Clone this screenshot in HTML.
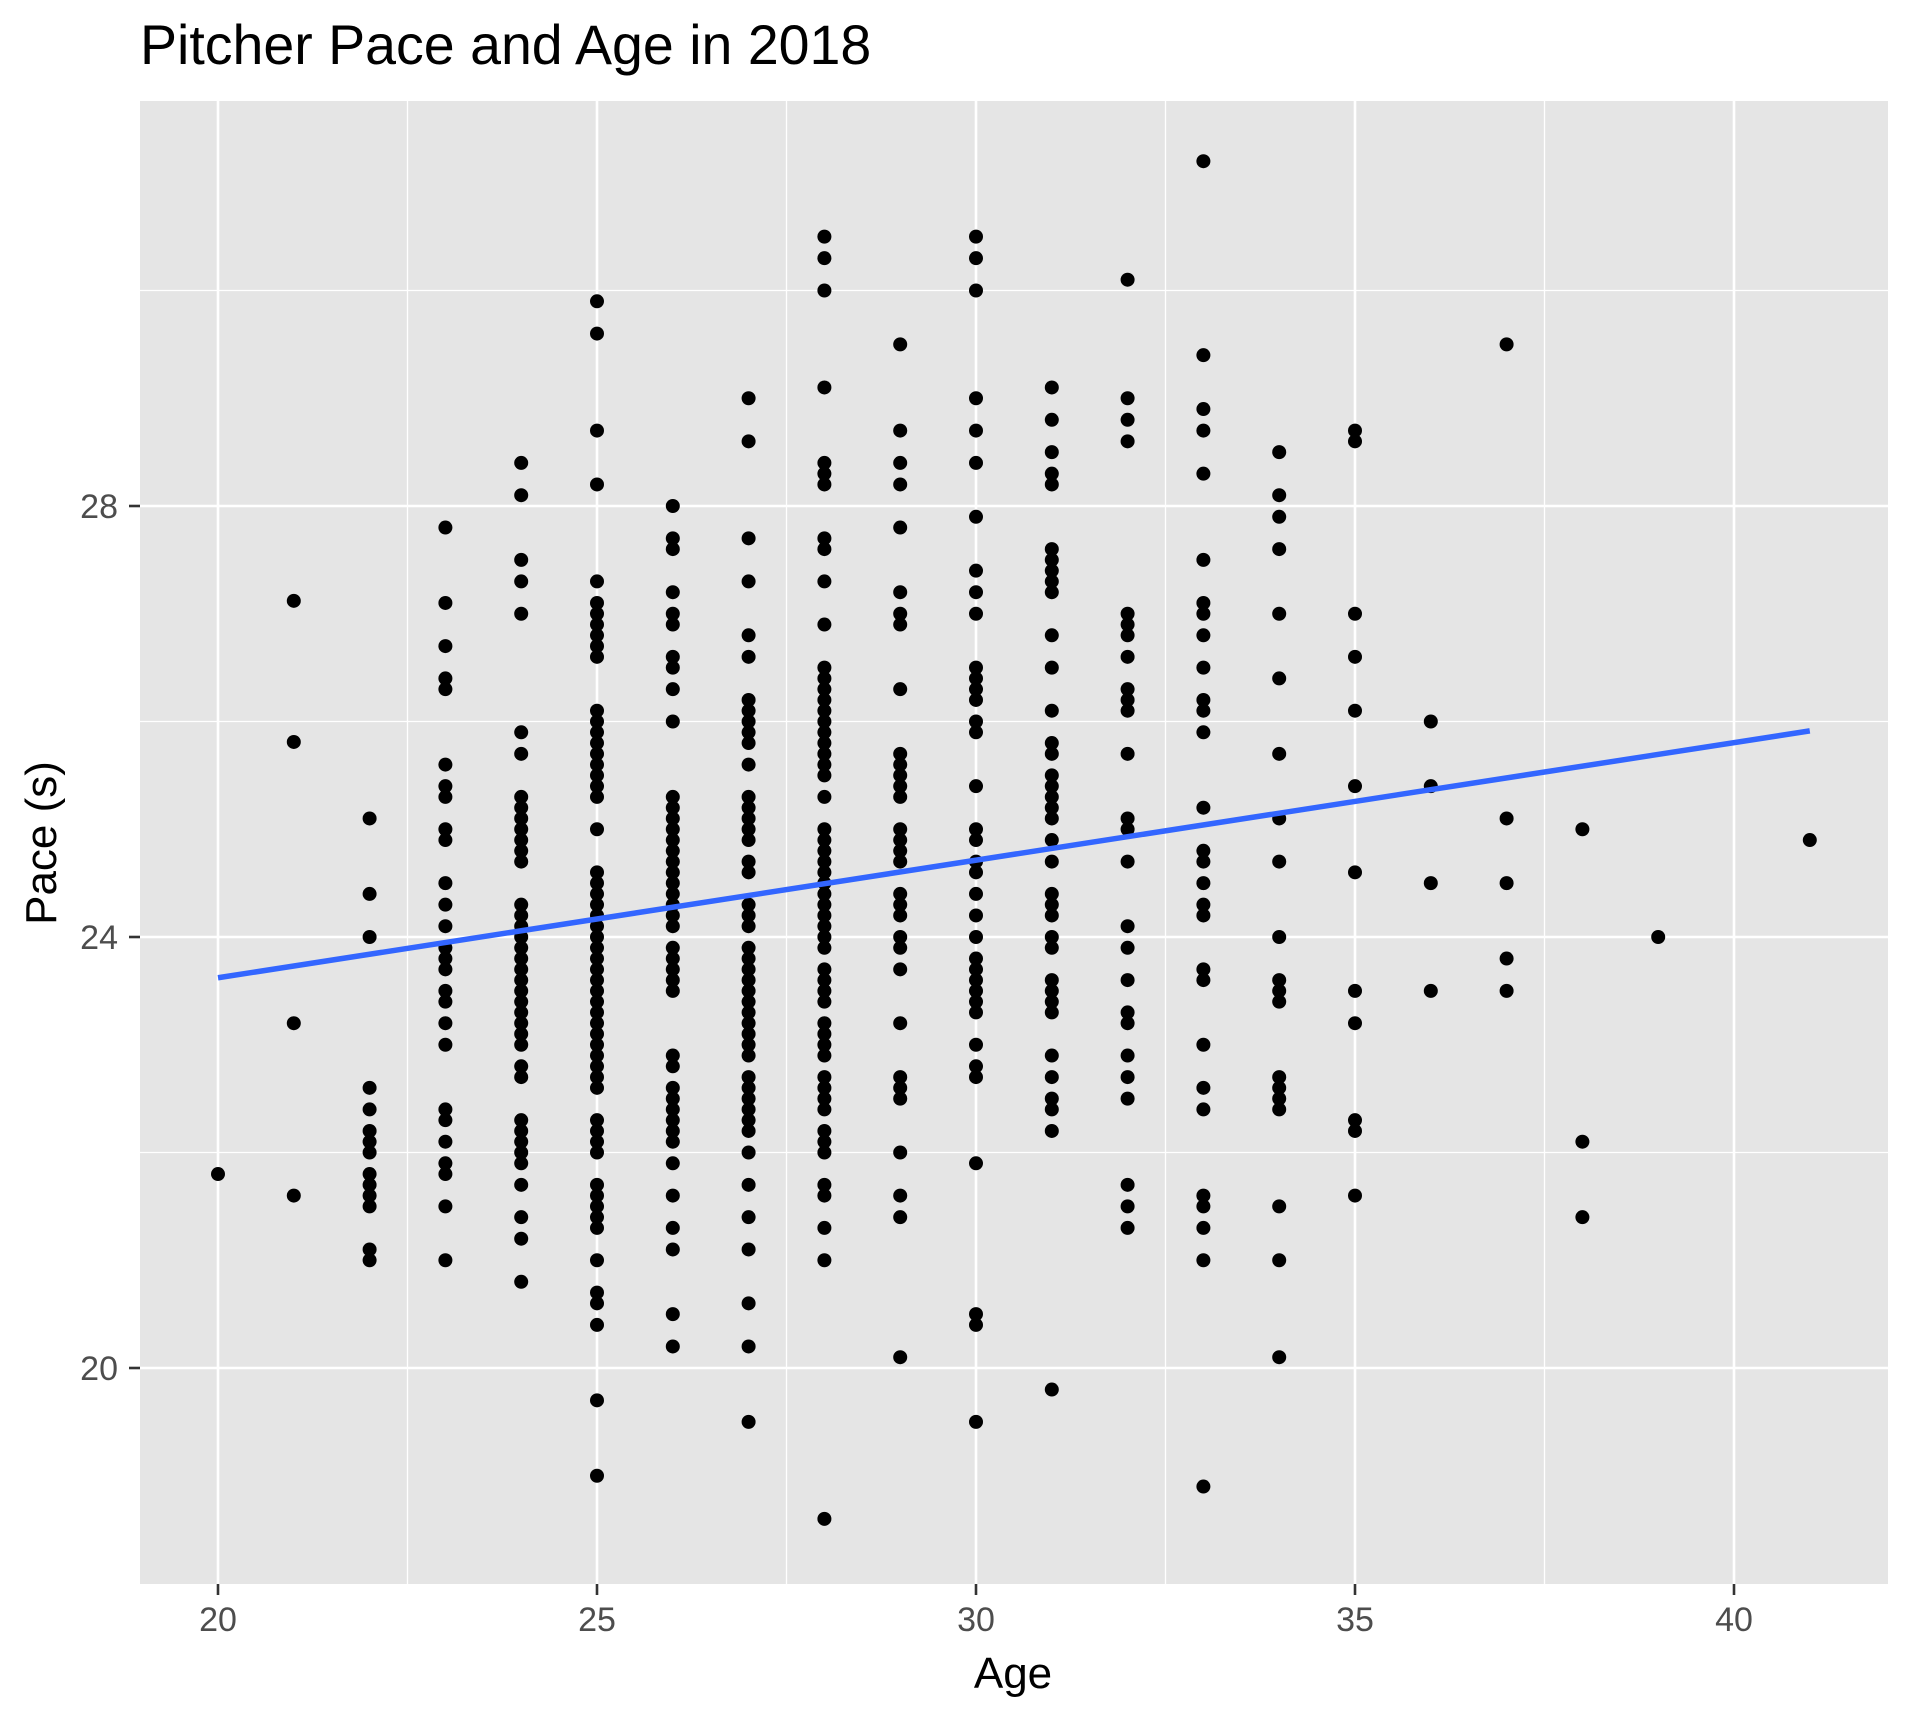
<!DOCTYPE html>
<html><head><meta charset="utf-8"><style>
body{margin:0;background:#fff}
svg{display:block;font-family:"Liberation Sans",Arial,sans-serif}
</style></head><body>
<svg id="chart" width="1908" height="1720" viewBox="0 0 1908 1720" xmlns="http://www.w3.org/2000/svg">
<text x="140" y="64" font-size="55.5" fill="#000">Pitcher Pace and Age in 2018</text>
<rect x="140" y="101" width="1748" height="1483" fill="#e5e5e5"/>
<g id="grid"></g>
<g id="axes"></g>
<g id="points"></g>
<g id="fit"></g>
<text x="1013" y="1688" font-size="44" text-anchor="middle" fill="#000">Age</text>
<text transform="translate(56,843) rotate(-90)" font-size="44" text-anchor="middle" fill="#000">Pace (s)</text>
</svg>
<script>
const xTicks=[20,25,30,35,40];
const xMinor=[22.5,27.5,32.5,37.5];
const yTicks=[20,24,28];
const yMinor=[22,26,30];
const ages=[20,21,22,23,24,25,26,27,28,29,30,31,32,33,34,35,36,37,38,39,41];
const paces=[
[21.8],
[27.12,25.81,23.2,21.6],
[25.1,24.4,24.0,22.6,22.4,22.2,22.1,22.0,21.8,21.7,21.6,21.5,21.1,21.0],
[27.8,27.1,26.7,26.4,26.3,25.6,25.4,25.3,25.0,24.9,24.5,24.3,24.1,23.9,23.8,23.7,23.5,23.4,23.2,23.0,22.4,22.3,22.1,21.9,21.8,21.5,21.0],
[28.4,28.1,27.5,27.3,27.0,25.9,25.7,25.3,25.2,25.1,25.0,24.9,24.8,24.7,24.3,24.2,24.1,24.0,23.9,23.8,23.7,23.6,23.5,23.4,23.3,23.2,23.1,23.0,22.8,22.7,22.3,22.2,22.1,22.0,21.9,21.7,21.4,21.2,20.8],
[29.9,29.6,28.7,28.2,27.3,27.1,27.0,26.9,26.8,26.7,26.6,26.1,26.0,25.9,25.8,25.7,25.6,25.5,25.4,25.3,25.0,24.6,24.5,24.4,24.3,24.2,24.1,24.0,23.9,23.8,23.7,23.6,23.5,23.4,23.3,23.2,23.1,23.0,22.9,22.8,22.7,22.6,22.3,22.2,22.1,22.0,21.7,21.6,21.5,21.4,21.3,21.0,20.7,20.6,20.4,19.7,19.0],
[28.0,27.7,27.6,27.2,27.0,26.9,26.6,26.5,26.3,26.0,25.3,25.2,25.1,25.0,24.9,24.8,24.7,24.6,24.5,24.4,24.3,24.2,24.1,23.9,23.8,23.7,23.6,23.5,22.9,22.8,22.6,22.5,22.4,22.3,22.2,22.1,21.9,21.6,21.3,21.1,20.5,20.2],
[29.0,28.6,27.7,27.3,26.8,26.6,26.2,26.1,26.0,25.9,25.8,25.6,25.3,25.2,25.1,25.0,24.9,24.7,24.6,24.3,24.2,24.1,23.9,23.8,23.7,23.6,23.5,23.4,23.3,23.2,23.1,23.0,22.9,22.7,22.6,22.5,22.4,22.3,22.2,22.0,21.7,21.4,21.1,20.6,20.2,19.5],
[30.5,30.3,30.0,29.1,28.4,28.3,28.2,27.7,27.6,27.3,26.9,26.5,26.4,26.3,26.2,26.1,26.0,25.9,25.8,25.7,25.6,25.5,25.3,25.0,24.9,24.8,24.7,24.6,24.5,24.4,24.3,24.2,24.1,24.0,23.9,23.7,23.6,23.5,23.4,23.2,23.1,23.0,22.9,22.7,22.6,22.5,22.4,22.2,22.1,22.0,21.7,21.6,21.3,21.0,18.6],
[29.5,28.7,28.4,28.2,27.8,27.2,27.0,26.9,26.3,25.7,25.6,25.5,25.4,25.3,25.0,24.9,24.8,24.7,24.4,24.3,24.2,24.0,23.9,23.7,23.2,22.7,22.6,22.5,22.0,21.6,21.4,20.1],
[30.5,30.3,30.0,29.0,28.7,28.4,27.9,27.4,27.2,27.0,26.5,26.4,26.3,26.2,26.0,25.9,25.4,25.0,24.9,24.7,24.6,24.4,24.2,24.0,23.8,23.7,23.6,23.5,23.4,23.3,23.0,22.8,22.7,21.9,20.5,20.4,19.5],
[29.1,28.8,28.5,28.3,28.2,27.6,27.5,27.4,27.3,27.2,26.8,26.5,26.1,25.8,25.7,25.5,25.4,25.3,25.2,25.1,24.9,24.7,24.4,24.3,24.2,24.0,23.9,23.6,23.5,23.4,23.3,22.9,22.7,22.5,22.4,22.2,19.8],
[30.1,29.0,28.8,28.6,27.0,26.9,26.8,26.6,26.3,26.2,26.1,25.7,25.1,25.0,24.7,24.1,23.9,23.6,23.3,23.2,22.9,22.7,22.5,21.7,21.5,21.3],
[31.2,29.4,28.9,28.7,28.3,27.5,27.1,27.0,26.8,26.5,26.2,26.1,25.9,25.2,24.8,24.7,24.5,24.3,24.2,23.7,23.6,23.0,22.6,22.4,21.6,21.5,21.3,21.0,18.9],
[28.5,28.1,27.9,27.6,27.0,26.4,25.7,25.1,24.7,24.0,23.6,23.5,23.4,22.7,22.6,22.5,22.4,21.5,21.0,20.1],
[28.7,28.6,27.0,26.6,26.1,25.4,24.6,23.5,23.2,22.3,22.2,21.6],
[26.0,25.4,24.5,23.5],
[29.5,25.1,24.5,23.8,23.5],
[25.0,22.1,21.4],
[24.0],
[24.9]
];
const NS="http://www.w3.org/2000/svg";
const PL=140,PR=1888,PT=101,PB=1584;
function xs(v){return 218+(v-20)*75.8;}
function ys(v){return 1368-(v-20)*107.75;}
function mk(tag,attrs,parent){const e=document.createElementNS(NS,tag);for(const k in attrs)e.setAttribute(k,attrs[k]);parent.appendChild(e);return e;}
const grid=document.getElementById('grid'),axes=document.getElementById('axes'),pts=document.getElementById('points'),fit=document.getElementById('fit');
xMinor.forEach(v=>{const l=mk('line',{x1:xs(v),x2:xs(v),y1:PT,y2:PB,stroke:'#fff','stroke-width':1.3},grid);

});
yMinor.forEach(v=>{const l=mk('line',{x1:PL,x2:PR,y1:ys(v),y2:ys(v),stroke:'#fff','stroke-width':1.3},grid);

});
xTicks.forEach(v=>{const l=mk('line',{x1:xs(v),x2:xs(v),y1:PT,y2:PB,stroke:'#fff','stroke-width':2.6},grid);


const t=mk('line',{x1:xs(v),x2:xs(v),y1:PB,y2:PB+11,stroke:'#333','stroke-width':2.6},axes);


const tx=mk('text',{x:xs(v),y:1631,'font-size':34,'text-anchor':'middle',fill:'#4d4d4d'},axes);tx.textContent=v;

});
yTicks.forEach(v=>{const l=mk('line',{x1:PL,x2:PR,y1:ys(v),y2:ys(v),stroke:'#fff','stroke-width':2.6},grid);


const t=mk('line',{x1:PL-11,x2:PL,y1:ys(v),y2:ys(v),stroke:'#333','stroke-width':2.6},axes);


const tx=mk('text',{x:PL-22,y:ys(v)+12,'font-size':34,'text-anchor':'end',fill:'#4d4d4d'},axes);tx.textContent=v;

});
let n=0,sx=0,sy=0,sxx=0,sxy=0;
ages.forEach((a,i)=>{paces[i].forEach(p=>{
const c=mk('circle',{cx:xs(a),cy:ys(p),r:7,fill:'#000'},pts);


n++;sx+=a;sy+=p;sxx+=a*a;sxy+=a*p;});});
const slope=(n*sxy-sx*sy)/(n*sxx-sx*sx),icpt=(sy-slope*sx)/n;
const x0=Math.min(...ages),x1=Math.max(...ages);
const ln=mk('line',{x1:xs(x0),y1:ys(icpt+slope*x0),x2:xs(x1),y2:ys(icpt+slope*x1),stroke:'#3366ff','stroke-width':5.5},fit);


</script>
</body></html>
